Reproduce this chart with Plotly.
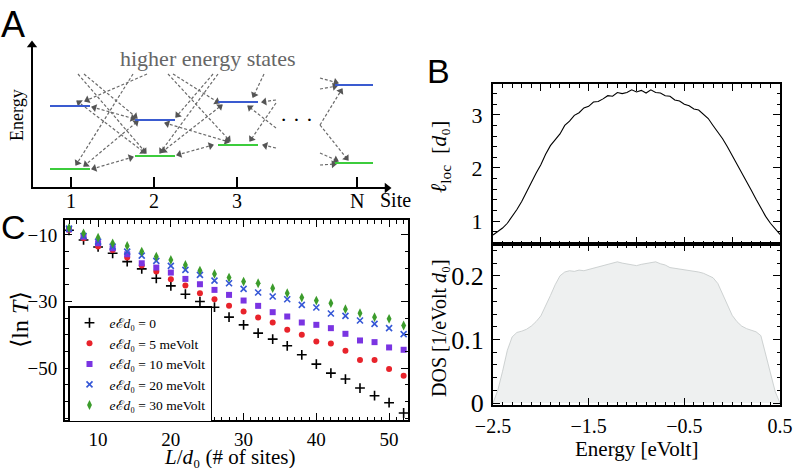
import math
import plotly.graph_objects as go

W, H = 796, 468
SERIF = "Liberation Serif, DejaVu Serif, serif"
SANS = "Liberation Sans, Arial, sans-serif"


def px(x):
    return x / W


def py(y):
    return 1 - y / H


# ---------------- Panel C data ----------------
L_sites = [6, 8, 10, 12, 14, 16, 18, 20, 22, 24, 26, 28, 30, 32, 34, 36, 38, 40, 42, 44, 46, 48, 50, 52]
lnT_0 = [-8.6, -11.5, -13.6, -15.5, -18.0, -20.2, -23.0, -25.3, -27.8, -30.0, -31.7, -34.7,
         -37.0, -39.5, -41.3, -43.3, -46.0, -48.8, -51.5, -53.3, -56.0, -58.3, -60.4, -63.5]
lnT_5 = [-8.5, -11.0, -13.5, -14.5, -16.8, -19.2, -21.0, -23.3, -25.2, -27.5, -29.3, -31.3,
         -33.0, -34.8, -36.3, -38.5, -40.0, -42.0, -42.6, -44.8, -47.6, -47.6, -50.3, -52.3]
lnT_10 = [-8.3, -10.5, -12.5, -14.0, -15.8, -18.5, -19.8, -21.3, -23.2, -24.8, -26.5, -28.0,
          -29.7, -31.3, -33.2, -34.5, -36.3, -37.0, -38.0, -39.7, -41.7, -42.2, -43.8, -44.5]
lnT_20 = [-8.1, -10.3, -12.0, -13.5, -15.0, -16.2, -17.8, -19.3, -20.5, -22.0, -23.7, -24.5,
          -26.2, -27.3, -28.5, -29.3, -31.0, -31.8, -33.6, -34.3, -35.7, -36.7, -38.0, -39.8]
lnT_30 = [-7.9, -9.5, -10.8, -12.5, -13.3, -15.0, -16.5, -17.5, -19.0, -20.7, -21.7, -22.8,
          -24.0, -24.5, -26.0, -27.5, -28.8, -29.7, -30.5, -32.3, -33.5, -34.7, -35.2, -37.2]
series_names = ["<i>e</i>ℰ<i>d</i>₀ = 0",
                "<i>e</i>ℰ<i>d</i>₀ = 5 meVolt",
                "<i>e</i>ℰ<i>d</i>₀ = 10 meVolt",
                "<i>e</i>ℰ<i>d</i>₀ = 20 meVolt",
                "<i>e</i>ℰ<i>d</i>₀ = 30 meVolt"]

# ---------------- Panel B data ----------------
energy = [-2.50, -2.45, -2.40, -2.35, -2.30, -2.25, -2.20, -2.15, -2.10, -2.05,
          -2.00, -1.95, -1.90, -1.85, -1.80, -1.75, -1.70, -1.65, -1.60, -1.55,
          -1.50, -1.45, -1.40, -1.35, -1.30, -1.25, -1.20, -1.15, -1.10, -1.05,
          -1.00, -0.95, -0.90, -0.85, -0.80, -0.75, -0.70, -0.65, -0.60, -0.55,
          -0.50, -0.45, -0.40, -0.35, -0.30, -0.25, -0.20, -0.15, -0.10, -0.05,
          0.00, 0.05, 0.10, 0.15, 0.20, 0.25, 0.30, 0.35, 0.40, 0.45, 0.50]
loc_length = [0.74, 0.80, 0.87, 0.96, 1.08, 1.22, 1.37, 1.55, 1.74, 1.90,
              2.06, 2.26, 2.42, 2.52, 2.64, 2.80, 2.88, 2.99, 3.04, 3.13,
              3.16, 3.24, 3.25, 3.30, 3.36, 3.35, 3.42, 3.40, 3.42, 3.47,
              3.43, 3.46, 3.41, 3.47, 3.42, 3.41, 3.36, 3.35, 3.28, 3.26,
              3.20, 3.17, 3.11, 3.09, 3.00, 2.93, 2.80, 2.68, 2.55, 2.40,
              2.24, 2.08, 1.92, 1.75, 1.58, 1.41, 1.24, 1.09, 0.96, 0.85, 0.75]
dos = [0.000, 0.020, 0.050, 0.083, 0.104, 0.111, 0.113, 0.116, 0.121, 0.128,
       0.137, 0.152, 0.169, 0.186, 0.200, 0.206, 0.208, 0.207, 0.209, 0.208,
       0.210, 0.212, 0.215, 0.216, 0.219, 0.220, 0.222, 0.220, 0.219, 0.217,
       0.216, 0.218, 0.219, 0.221, 0.222, 0.219, 0.217, 0.213, 0.212, 0.210,
       0.209, 0.208, 0.207, 0.206, 0.204, 0.201, 0.197, 0.188, 0.172, 0.156,
       0.138, 0.128, 0.121, 0.117, 0.115, 0.112, 0.106, 0.076, 0.045, 0.018, 0.000]

# ---------------- Panel A schematic (diagram units) ----------------
site_x = [71, 154, 237, 357]
site_labels = ["1", "2", "3", "N"]
level_x0 = [50, 135, 218, 335]
level_x1 = [90, 175, 258, 373]
upper_y = [106, 120, 102, 85]
lower_y = [169, 156, 145, 163]
# (x0, y0, x1, y1, double-headed)
hops = [
    (78, 74, 146, 153, 0), (84, 74, 137, 118, 0), (133, 74, 76, 165, 0),
    (147, 74, 85, 101, 0), (168, 74, 230, 141, 0), (173, 74, 219, 103, 0),
    (213, 74, 176, 117, 0), (218, 74, 160, 153, 0), (264, 74, 253, 97, 0),
    (92, 107, 135, 119, 1), (77, 101, 145, 153, 1), (92, 169, 133, 157, 1),
    (84, 166, 138, 121, 1), (165, 123, 229, 142, 1), (177, 155, 213, 145, 1),
    (162, 152, 222, 105, 1),
    (276, 100, 262, 102, 0), (276, 103, 250, 141, 0), (276, 128, 248, 106, 0),
    (276, 148, 263, 145, 0),
    (320, 78, 338, 83, 0), (320, 89, 337, 86, 0), (320, 125, 342, 89, 0),
    (320, 125, 348, 160, 0), (320, 153, 338, 161, 0), (320, 165, 336, 164, 0),
]

fig = go.Figure()

# ---- Panel C traces ----
styles = [
    dict(symbol="cross-thin", size=7, color="black", line=dict(color="black", width=1.6)),
    dict(symbol="circle", size=6, color="#e8232b", line=dict(width=0)),
    dict(symbol="square", size=6, color="#7a34e2", line=dict(width=0)),
    dict(symbol="x-thin", size=6, color="#3557d6", line=dict(color="#3557d6", width=1.6)),
    dict(symbol="diamond-tall", size=7, color="#3c9c2c", line=dict(width=0)),
]
for vals, name, st in zip([lnT_0, lnT_5, lnT_10, lnT_20, lnT_30], series_names, styles):
    fig.add_trace(go.Scatter(x=L_sites, y=vals, mode="markers", name=name, marker=st,
                             xaxis="x", yaxis="y", cliponaxis=False))

# ---- Panel B traces ----
fig.add_trace(go.Scatter(x=energy, y=loc_length, mode="lines", line=dict(color="black", width=1.1),
                         xaxis="x2", yaxis="y2", showlegend=False))
fig.add_trace(go.Scatter(x=energy, y=dos, mode="lines", fill="tozeroy", fillcolor="#eef0f0",
                         line=dict(color="#c3c8c8", width=0.8), xaxis="x3", yaxis="y3",
                         showlegend=False))

# ---- Panel A traces ----
lx, ly, hx, hy, ha = [], [], [], [], []


def head(xe, ye, xs, ys):
    dx, dy = xe - xs, ye - ys
    n = math.hypot(dx, dy)
    ux, uy = dx / n, dy / n
    hx.append(xe - 2.5 * ux)
    hy.append(ye - 2.5 * uy)
    ha.append(math.degrees(math.atan2(dx, -dy)))


for x0, y0, x1, y1, dbl in hops:
    lx += [x0, x1, None]
    ly += [y0, y1, None]
    head(x1, y1, x0, y0)
    if dbl:
        head(x0, y0, x1, y1)

fig.add_trace(go.Scatter(x=lx, y=ly, mode="lines", line=dict(color="#6a6a6a", width=1.2, dash="3px,2px"),
                         xaxis="x4", yaxis="y4", showlegend=False, hoverinfo="skip"))
fig.add_trace(go.Scatter(x=hx, y=hy, mode="markers",
                         marker=dict(symbol="triangle-up", size=7, color="#555555", angle=ha,
                                     line=dict(width=0)),
                         xaxis="x4", yaxis="y4", showlegend=False, hoverinfo="skip"))
# energy levels
ux_, uy_, gx_, gy_ = [], [], [], []
for a, b, u, g in zip(level_x0, level_x1, upper_y, lower_y):
    ux_ += [a, b, None]
    uy_ += [u, u, None]
    gx_ += [a, b, None]
    gy_ += [g, g, None]
fig.add_trace(go.Scatter(x=ux_, y=uy_, mode="lines", line=dict(color="#3a5bd0", width=2),
                         xaxis="x4", yaxis="y4", showlegend=False))
fig.add_trace(go.Scatter(x=gx_, y=gy_, mode="lines", line=dict(color="#3ccc3c", width=2.2),
                         xaxis="x4", yaxis="y4", showlegend=False))
# axes of the schematic
axis_x0, axis_y0, axis_top, axis_right = 32, 188, 47, 385
fig.add_trace(go.Scatter(x=[axis_x0, axis_x0, None, axis_x0 - 1, axis_right],
                         y=[axis_y0 + 1, axis_top, None, axis_y0, axis_y0],
                         mode="lines", line=dict(color="black", width=2),
                         xaxis="x4", yaxis="y4", showlegend=False))
fig.add_trace(go.Scatter(x=[axis_x0, axis_right + 2], y=[axis_top - 2, axis_y0], mode="markers",
                         marker=dict(symbol="triangle-up", size=9, color="black", angle=[0, 90]),
                         xaxis="x4", yaxis="y4", showlegend=False))
tx, ty = [], []
for s in site_x:
    tx += [s, s, None]
    ty += [axis_y0, axis_y0 - 11, None]
fig.add_trace(go.Scatter(x=tx, y=ty, mode="lines", line=dict(color="black", width=2),
                         xaxis="x4", yaxis="y4", showlegend=False))

# ---------------- Layout ----------------


def frame(minor_dtick=None, **kw):
    d = dict(showline=True, linecolor="black", linewidth=2, mirror="allticks", ticks="inside",
             ticklen=7, tickwidth=1, tickcolor="black", showgrid=False, zeroline=False,
             autorange=False, fixedrange=True, automargin=False)
    if minor_dtick is not None:
        d["minor"] = dict(ticks="inside", ticklen=3.5, tickwidth=0.8, tickcolor="black",
                          dtick=minor_dtick, showgrid=False)
    d.update(kw)
    return d


annotations = []


def txt(x, y, text, size, family=SERIF, color="black", angle=0):
    annotations.append(dict(x=px(x), y=py(y), xref="paper", yref="paper", text=text,
                            showarrow=False, xanchor="center", yanchor="middle", textangle=angle,
                            font=dict(family=family, size=size, color=color)))


txt(13, 24, "A", 36, SANS)
txt(438, 71, "B", 34, SANS)
txt(13, 227, "C", 34, SANS)
txt(208, 58, "higher energy states", 22, color="#666666")
txt(17, 115, "Energy", 18, angle=-90)
txt(296, 119, "· · ·", 22)
for s, lab in zip(site_x, site_labels):
    txt(s, 201, lab, 20)
txt(395, 200, "Site", 20)
txt(20, 320, "⟨ln <i>T</i>⟩", 24, angle=-90)
txt(230, 457, "<i>L</i>/<i>d</i>₀ (# of sites)", 21)
txt(440, 157, "<i>ℓ</i><sub>loc</sub>  [<i>d</i>₀]", 22, angle=-90)
txt(439, 328, "DOS [1/eVolt <i>d</i>₀]", 20, angle=-90)
txt(636, 449, "Energy [eVolt]", 21)

fig.update_layout(
    width=W, height=H, margin=dict(l=0, r=0, t=0, b=0, pad=0, autoexpand=False),
    paper_bgcolor="white", plot_bgcolor="rgba(0,0,0,0)",
    font=dict(family=SERIF, color="black"),
    xaxis=frame(1, domain=[px(65), px(408)], range=[5.45, 52.6], anchor="y",
                tickvals=[10, 20, 30, 40, 50], tickfont=dict(size=19), ticklabelstandoff=1),
    yaxis=frame(5, domain=[py(420), py(220)], range=[-65.6, -5.5], anchor="x",
                tickvals=[-10, -30, -50], ticktext=["−10", "−30", "−50"],
                tickfont=dict(size=19), ticklabelstandoff=2),
    xaxis2=frame(0.1, domain=[px(493), px(780)], range=[-2.5, 0.5], anchor="y2",
                 tickvals=[-2.5, -2.0, -1.5, -1.0, -0.5, 0.0, 0.5], showticklabels=False),
    yaxis2=frame(0.2, domain=[py(244), py(84)], range=[0.57, 3.58], anchor="x2",
                 tickvals=[1, 2, 3], tickfont=dict(size=22), ticklabelstandoff=4),
    xaxis3=frame(0.1, domain=[px(493), px(780)], range=[-2.5, 0.5], anchor="y3",
                 tickvals=[-2.5, -1.5, -0.5, 0.5],
                 ticktext=["−2.5", "−1.5", "−0.5", "0.5"],
                 tickfont=dict(size=20), ticklabelstandoff=2),
    yaxis3=frame(0.02, domain=[py(405), py(244)], range=[-0.003, 0.25], anchor="x3",
                 tickvals=[0, 0.1, 0.2], ticktext=["0", "0.1", "0.2"],
                 tickfont=dict(size=26), ticklabelstandoff=2),
    xaxis4=dict(domain=[0, px(420)], range=[0, 420], anchor="y4", visible=False,
                autorange=False, fixedrange=True),
    yaxis4=dict(domain=[py(215), 1], range=[215, 0], anchor="x4", visible=False,
                autorange=False, fixedrange=True),
    legend=dict(x=px(68), y=py(306), xanchor="left", yanchor="top", bgcolor="white",
                bordercolor="black", borderwidth=1.5, tracegroupgap=0,
                font=dict(family=SERIF, size=13.5, color="black")),
    annotations=annotations,
    showlegend=True,
)

fig.write_html("out.html", config={"displayModeBar": False},
               post_script="document.body.style.margin='0px';document.body.style.overflow='hidden';")
